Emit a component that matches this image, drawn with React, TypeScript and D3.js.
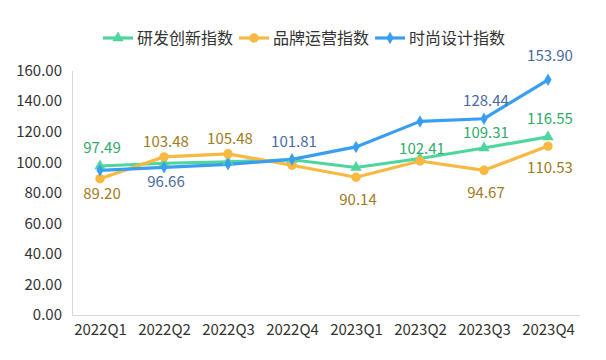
import React, { useEffect, useRef } from 'react';
import * as d3 from 'd3';

const quarters = ['2022Q1', '2022Q2', '2022Q3', '2022Q4', '2023Q1', '2023Q2', '2023Q3', '2023Q4'];
const yTicks = [0, 20, 40, 60, 80, 100, 120, 140, 160];

const rdValues = [97.49, 99.3, 100.2, 101.6, 96.5, 102.41, 109.31, 116.55];
const brandValues = [89.2, 103.48, 105.48, 98.0, 90.14, 100.8, 94.67, 110.53];
const designValues = [94.7, 96.66, 98.6, 101.81, 110.0, 126.7, 128.44, 153.9];

// which points carry a value label (index into quarters)
const rdLabelled = [0, 5, 6, 7];
const brandLabelled = [0, 1, 2, 4, 6, 7];
const designLabelled = [1, 3, 6, 7];

// label offsets from the point, px (negative = above)
const rdLabelDy = [-13, -5, -10, -13];
const brandLabelDy = [20, -10, -10, 28, 28, 27];
const designLabelDy = [20, -12, -13, -19];

const series = [
  { name: '研发创新指数', values: rdValues, labelled: rdLabelled, dy: rdLabelDy, line: '#4fd69f', text: '#2fab6a', marker: 'triangle', size: 55 },
  { name: '品牌运营指数', values: brandValues, labelled: brandLabelled, dy: brandLabelDy, line: '#f7b941', text: '#a07a22', marker: 'circle', size: 70 },
  { name: '时尚设计指数', values: designValues, labelled: designLabelled, dy: designLabelDy, line: '#3a9ef0', text: '#4a6b9e', marker: 'diamond', size: 45 },
];

const FONT = '"Noto Sans CJK SC", "Noto Sans", sans-serif';

const symbolFor = (m: string) =>
  m === 'triangle' ? d3.symbolTriangle : m === 'circle' ? d3.symbolCircle : d3.symbolDiamond;

export default function App() {
  const svgRef = useRef<SVGSVGElement>(null);

  useEffect(() => {
    if (!svgRef.current) return;
    const width = 606;
    const height = 360;
    const svg = d3.select(svgRef.current);
    svg.selectAll('*').remove();

    const x = d3.scalePoint<string>().domain(quarters).range([68, 580]).padding(0.5);
    const y = d3.scaleLinear().domain([0, 160]).range([315, 70.5]);

    svg.append('rect').attr('width', width).attr('height', height).attr('fill', '#fff');

    // axes
    const yAxis = svg.append('g').attr('transform', 'translate(72,0)')
      .call(d3.axisLeft(y).tickValues(yTicks).tickSize(0).tickPadding(10).tickFormat(d3.format('.2f')));
    yAxis.select('.domain').attr('stroke', '#d9d9d9');
    yAxis.selectAll('text').attr('font-size', 15).attr('fill', '#333').style('font-family', FONT);

    const xAxis = svg.append('g').attr('transform', 'translate(0,315.5)')
      .call(d3.axisBottom(x).tickSize(0).tickPadding(9));
    xAxis.select('.domain').attr('stroke', '#d9d9d9').attr('d', 'M72,0H580');
    xAxis.selectAll('text').attr('font-size', 15).attr('fill', '#333').style('font-family', FONT);

    const line = d3.line<number>().x((_, i) => x(quarters[i]) as number).y((d) => y(d));

    series.forEach((s) => {
      svg.append('path').attr('d', line(s.values) as string)
        .attr('fill', 'none').attr('stroke', s.line).attr('stroke-width', 3.2)
        .attr('stroke-linejoin', 'round');
    });

    series.forEach((s) => {
      const sym = d3.symbol().type(symbolFor(s.marker)).size(s.size);
      svg.append('g').selectAll('path').data(s.values).join('path')
        .attr('d', sym() as string)
        .attr('transform', (d, i) => `translate(${x(quarters[i])},${y(d)})`)
        .attr('fill', s.line);
    });

    series.forEach((s) => {
      svg.append('g').selectAll('text').data(s.labelled).join('text')
        .attr('x', (i) => (x(quarters[i]) as number) + 2)
        .attr('y', (i, k) => y(s.values[i]) + s.dy[k])
        .attr('text-anchor', 'middle')
        .attr('font-size', 15)
        .attr('fill', s.text)
        .style('font-family', FONT)
        .text((i) => s.values[i].toFixed(2));
    });

    // legend
    const legend = svg.append('g').attr('transform', 'translate(103,38)');
    let offset = 0;
    series.forEach((s) => {
      const item = legend.append('g').attr('transform', `translate(${offset},0)`);
      item.append('line').attr('x1', 0).attr('x2', 30).attr('y1', 0).attr('y2', 0)
        .attr('stroke', s.line).attr('stroke-width', 3.2);
      item.append('path').attr('d', d3.symbol().type(symbolFor(s.marker)).size(s.size)() as string)
        .attr('transform', 'translate(15,0)').attr('fill', s.line);
      const t = item.append('text').attr('x', 34).attr('y', 0).attr('dy', '0.35em')
        .attr('font-size', 16).attr('fill', '#333').style('font-family', FONT).text(s.name);
      const w = (t.node() as SVGTextElement).getComputedTextLength();
      offset += 34 + w + 6;
    });
  }, []);

  return (
    <svg ref={svgRef} width={606} height={360} viewBox="0 0 606 360"
      style={{ position: 'absolute', left: 0, top: 0 }} />
  );
}
